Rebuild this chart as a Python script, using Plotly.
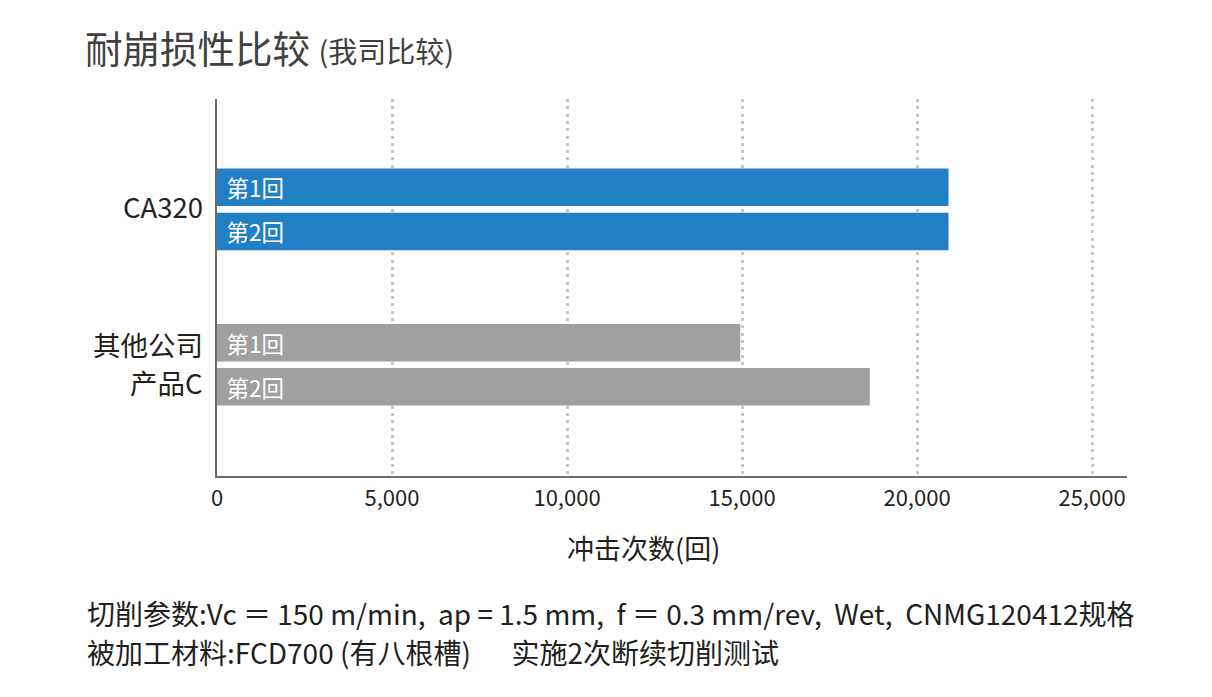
import plotly.graph_objects as go

categories = ["CA320", "其他公司\n产品C"]
series_names = ["第1回", "第2回"]
run1_values = [20900, 14950]
run2_values = [20900, 18650]
bar_colors = ["#2180c4", "#9fa0a0"]
x_tick_values = [0, 5000, 10000, 15000, 20000, 25000]

FONT = "Noto Sans CJK SC, Noto Sans, sans-serif"
TEXT = "#231f20"
OFF = 8  # page body margin offset

fig = go.Figure()
for name, vals in zip(series_names, [run1_values, run2_values]):
    fig.add_trace(go.Bar(
        y=categories, x=vals, orientation="h", name=name,
        marker=dict(color=bar_colors, line=dict(width=0)),
        text=[name] * len(vals),
        texttemplate="\u00a0\u200a%{text}",
        textposition="inside", insidetextanchor="start",
        textfont=dict(color="white", size=22.5, family=FONT),
        constraintext="none",
        hoverinfo="x+y",
    ))

plot_left, plot_right, plot_top, plot_bottom = 217 - OFF, 1127 - OFF, 99 - OFF, 476 - OFF
fig.update_layout(
    width=1212, height=697,
    margin=dict(l=plot_left, r=1212 - plot_right, t=plot_top, b=697 - plot_bottom),
    paper_bgcolor="white", plot_bgcolor="white",
    barmode="group", bargap=0.432, bargroupgap=0.15,
    showlegend=False,
    font=dict(family=FONT, color=TEXT),
    title=dict(
        text="耐崩损性比较 <span style='font-size:29px'>(我司比较)</span>",
        font=dict(size=37.5, color="#404040", family=FONT),
        x=(85 - OFF) / 1212, xanchor="left", xref="container",
        y=1 - (50 - OFF) / 697, yanchor="middle", yref="container",
    ),
)

fig.update_xaxes(
    range=[0, 26000], tickvals=x_tick_values, tickformat=",",
    showgrid=True, gridcolor="#c6c6c6", gridwidth=3, griddash="3px,4.3px",
    zeroline=False,
    showline=True, linecolor="#6f6b6b", linewidth=1.5,
    ticks="", tickfont=dict(size=22, color=TEXT, family=FONT),
    ticklabelstandoff=2,
)
fig.update_yaxes(
    type="category", range=[1.716, -0.710],
    showticklabels=False, showgrid=False, zeroline=False,
    showline=True, linecolor="#6f6b6b", linewidth=1.5, ticks="",
)

# category labels (right aligned, left of axis)
for i, cat in enumerate(categories):
    lines = cat.split("\n")
    n = len(lines)
    for j, line in enumerate(lines):
        fig.add_annotation(
            x=0, xref="paper", y=cat, yref="y",
            text=line, showarrow=False, xanchor="right", yanchor="middle",
            xshift=-12, yshift=(-(j - (n - 1) / 2) * 38) + (2 if n > 1 else 3),
            font=dict(size=27.5, color=TEXT, family=FONT),
        )

# axis title
fig.add_annotation(
    x=(643 - 217) / 910, xref="paper", y=(476 - 547) / 377, yref="paper",
    text="冲击次数(回)", showarrow=False, xanchor="center", yanchor="middle",
    font=dict(size=27, color=TEXT, family=FONT),
)

# footnotes
notes = [
    "切削参数:Vc ＝ 150 m/min,  ap = 1.5 mm,  f ＝ 0.3 mm/rev,  Wet,  CNMG120412规格",
    "被加工材料:FCD700 (有八根槽)　\u00a0\u00a0实施2次断续切削测试",
]
for k, note in enumerate(notes):
    fig.add_annotation(
        x=(85 - 217) / 910, xref="paper", y=(476 - (613 + 39 * k)) / 377, yref="paper",
        text=note, showarrow=False, xanchor="left", yanchor="middle",
        font=dict(size=28, color=TEXT, family=FONT),
    )

fig.write_html("out.html")
